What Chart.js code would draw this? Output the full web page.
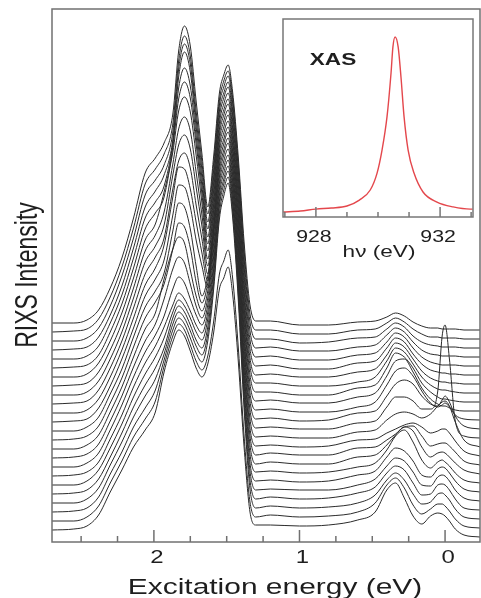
<!DOCTYPE html>
<html>
<head>
<meta charset="utf-8">
<script src="https://cdn.jsdelivr.net/npm/chart.js@4.4.1/dist/chart.umd.min.js"></script>
<style>
  body { margin: 0; background: #fff; }
  #wrap { position: relative; width: 481px; height: 598px; }
  #main { position: absolute; left: 0; top: 0; }
  #xas { position: absolute; left: 270px; top: 10px; }
</style>
</head>
<body>
<div id="wrap">
  <canvas id="main" width="481" height="598"></canvas>
  <canvas id="xas" width="211" height="260"></canvas>
</div>
<script>
// energy loss grid in eV, shared by every RIXS spectrum
var energy = [2.70, 2.55, 2.46, 2.38, 2.30, 2.22, 2.14, 2.06, 1.99, 1.93,
              1.87, 1.83, 1.79, 1.75, 1.71, 1.67, 1.63, 1.59, 1.55, 1.52, 1.49, 1.46, 1.42, 1.38, 1.34, 1.30,
              1.20, 1.00, 0.80, 0.60, 0.48, 0.40, 0.34, 0.28, 0.22, 0.16, 0.10, 0.05, 0.02, 0.00, -0.03, -0.07, -0.13, -0.24];

// RIXS intensity (arb. units) above each curve's own baseline, top of the stack first
var spectra = [
  [0,0,3,13,35,65,105,150,165,180, 209,272,297,277,222,169,116,166,230,248,258,232,165,80,18,2, 2,-2,-2,1, 2,6,10,7,1,-3,-5,-5,-6,-6,-6,-6,-7,-7],
  [0,1,3,13,35,65,104,148,163,178, 208,271,296,276,221,170,118,168,232,251,261,235,167,81,18,2, 2,-2,-2,2, 3,9,14,10,3,-2,-5,-5,-6,-6,-6,-6,-7,-7],
  [0,0,3,13,35,65,103,146,161,176, 209,272,297,277,222,171,119,170,236,254,265,239,170,82,19,2, 2,-2,-1,3, 4,12,18,14,5,-1,-4,-5,-6,-6,-6,-6,-7,-7],
  [0,1,3,13,35,64,102,143,159,175, 210,273,298,278,223,172,121,172,239,257,268,241,172,83,19,2, 3,-1,-1,3, 5,15,22,18,8,0,-4,-5,-6,-6,-6,-6,-7,-7],
  [0,0,3,13,36,64,101,141,157,173, 216,271,291,273,223,173,122,175,242,261,272,245,174,84,19,2, 3,-1,-1,4, 6,17,26,22,11,2,-3,-5,-6,-6,-6,-6,-7,-7],
  [0,1,3,13,36,64,100,139,155,171, 221,269,286,270,224,174,124,177,245,264,275,248,176,85,19,2, 3,-1,-1,5, 7,20,30,26,14,4,-2,-4,-5,-5,-6,-6,-7,-7],
  [0,0,3,14,36,64,99,137,153,185, 225,266,280,265,222,174,126,179,248,267,278,250,178,86,19,2, 3,0,0,5, 8,22,34,30,18,6,-1,-4,-5,-5,-6,-6,-7,-7],
  [0,1,3,14,36,63,98,135,151,174, 222,257,269,255,214,171,127,181,251,271,282,254,180,87,20,3, 3,0,0,4, 9,25,38,34,22,9,1,-3,-4,-4,-5,-6,-7,-7],
  [0,0,3,14,36,63,97,133,149,170, 220,250,260,246,208,169,129,184,254,274,285,257,182,88,20,3, 3,0,0,7, 10,27,42,38,27,12,3,-2,-4,-4,-5,-6,-7,-7],
  [0,1,3,14,36,63,96,130,147,166, 215,243,251,236,199,165,130,186,257,277,289,260,185,90,20,3, 4,1,1,7, 11,28,43,45,32,16,5,0,-2,-2,-4,-6,-7,-7],
  [0,0,3,14,36,63,95,128,145,168, 216,246,244,224,191,160,132,188,260,280,292,263,187,91,20,3, 4,1,1,6, 11,28,42,45,37,22,10,6,8,10,6,-2,-6,-7],
  [0,1,3,14,36,63,94,126,143,162, 207,237,235,215,182,156,134,190,263,283,295,266,189,91,21,3, 4,1,2,9, 11,26,38,42,38,26,18,16,22,26,20,6,-4,-7],
  [0,0,4,14,37,62,94,124,140,158, 200,228,224,202,165,135,155,201,266,287,299,269,191,93,21,3, 4,2,2,8, 10,24,34,34,30,22,22,40,95,106,72,10,-5,-7],
  [0,1,4,14,37,62,93,122,138,156, 191,217,213,192,158,137,157,203,269,290,302,272,193,94,21,3, 4,2,2,8, 10,20,26,28,26,22,26,34,38,39,34,18,0,-7],
  [0,0,4,14,37,62,92,120,136,170, 200,212,206,179,153,138,158,205,272,294,306,275,196,95,21,3, 4,2,3,9, 10,16,20,24,26,22,16,18,20,20,16,8,-2,-7],
  [0,1,4,14,37,62,91,117,134,159, 189,201,195,174,152,140,160,208,275,297,309,278,198,96,22,3, 5,3,3,10, 11,18,24,31,32,22,12,14,15,15,12,6,-3,-7],
  [0,0,4,14,37,62,90,115,132,151, 178,190,184,168,152,142,162,210,278,300,312,281,200,97,22,3, 5,3,3,10, 12,22,32,40,36,20,10,14,15,14,10,4,-3,-7],
  [0,1,4,14,37,61,89,113,130,149, 171,183,177,165,151,143,164,212,281,303,316,284,202,98,22,4, 5,3,4,9, 13,26,40,46,34,16,8,14,16,14,10,3,-4,-7],
  [0,0,4,15,37,61,88,111,128,147, 173,185,179,167,153,145,166,215,284,306,319,287,204,99,22,4, 5,3,4,10, 14,28,37,34,24,10,8,16,18,17,12,4,-4,-7],
  [0,1,4,15,37,61,87,109,126,146, 176,188,182,169,154,146,167,217,288,310,323,291,207,100,23,4, 5,4,4,9, 15,28,36,33,22,9,8,17,19,18,13,4,-4,-7],
  [0,0,4,15,38,61,86,107,124,149, 179,191,185,172,157,148,169,219,290,313,326,293,209,101,23,4, 6,4,5,10, 16,30,37,33,20,8,9,18,19,18,13,4,-5,-7],
  [0,1,4,15,38,60,85,104,122,152, 182,194,188,174,159,150,171,222,293,316,329,296,211,102,23,4, 6,4,5,9, 17,32,39,32,18,8,10,18,19,17,12,3,-5,-7],
  [0,0,4,15,38,60,84,102,120,155, 185,197,191,176,160,151,165,199,247,260,271,244,173,84,19,4, 6,4,5,9, 18,36,43,33,16,7,12,17,17,15,10,2,-5,-7],
  [0,1,4,15,38,60,83,100,118,158, 188,200,194,179,162,153,166,197,241,252,263,237,168,82,18,5, 5,4,5,10, 18,40,47,32,14,6,14,17,16,14,9,1,-5,-7]
];

// XAS spectrum for the inset (normalised)
var xasEnergy = [926.95, 927.5, 928.0, 928.5, 929.0, 929.4, 929.75, 929.97, 930.13, 930.29, 930.42, 930.48, 930.55,
                 930.65, 930.74, 930.84, 930.97, 931.16, 931.45, 931.9, 932.42, 932.97, 933.05];
var xasIntensity = [0.028, 0.033, 0.044, 0.05, 0.061, 0.094, 0.15, 0.244, 0.372, 0.556, 0.8, 0.944, 1.0,
                    0.944, 0.778, 0.556, 0.372, 0.244, 0.139, 0.083, 0.056, 0.044, 0.044];

// axis ticks
var lossTicks = [0, 0.25, 0.5, 0.75, 1, 1.25, 1.5, 1.75, 2, 2.25, 2.5];
var lossLabels = [0, 1, 2];
var xasTicks = [927, 928, 929, 930, 931, 932, 933];
var xasLabels = [928, 932];

// waterfall spacing between spectra
var base = 12;
var step = 9;

// text in this figure is drawn a bit wide
var SX = 1.33;
var FONT = '"Liberation Sans", Arial, sans-serif';

function wideText(ctx, txt, x, y, font, rotate) {
    ctx.save();
    ctx.translate(x, y);
    ctx.scale(SX, 1);
    if (rotate) ctx.rotate(-Math.PI / 2);
    ctx.font = font;
    ctx.fillStyle = '#1e1e1e';
    ctx.textAlign = 'center';
    ctx.textBaseline = 'alphabetic';
    ctx.fillText(txt, 0, 0);
    ctx.restore();
}

function tick(ctx, x, y0, len) {
    ctx.beginPath();
    ctx.moveTo(x, y0);
    ctx.lineTo(x, y0 - len);
    ctx.stroke();
}

var mainDecor = {
    id: 'mainDecor',
    beforeDraw: function(chart) {
        var ctx = chart.ctx;
        ctx.save();
        ctx.fillStyle = '#fff';
        ctx.fillRect(0, 0, chart.width, chart.height);
        ctx.restore();
    },
    afterDraw: function(chart) {
        var ctx = chart.ctx, a = chart.chartArea, x = chart.scales.x;
        ctx.save();
        ctx.strokeStyle = '#707070';
        ctx.lineWidth = 1.5;
        ctx.strokeRect(a.left, a.top, a.right - a.left, a.bottom - a.top);
        lossTicks.forEach(function(v) {
            tick(ctx, x.getPixelForValue(v), a.bottom, Number.isInteger(v) ? 12 : 6);
        });
        ctx.restore();
        lossLabels.forEach(function(v) {
            wideText(ctx, String(v), x.getPixelForValue(v) + 3, 563, '18px ' + FONT);
        });
        wideText(ctx, 'Excitation energy (eV)', 275, 594, '22.5px ' + FONT);
        wideText(ctx, 'RIXS Intensity', 37, 275, '23px ' + FONT, true);
    }
};

var n = spectra.length;
var datasets = spectra.map(function(row, k) {
    var off = base + step * (n - 1 - k);
    return {
        data: row.map(function(v, j) { return {x: energy[j], y: v + off}; }),
        borderColor: '#2b2b2b',
        borderWidth: 1,
        pointRadius: 0,
        fill: false,
        cubicInterpolationMode: 'monotone'
    };
});

new Chart(document.getElementById('main'), {
    type: 'line',
    data: {datasets: datasets},
    options: {
        responsive: false,
        animation: false,
        devicePixelRatio: 1,
        layout: {padding: {left: 52, top: 9, right: 1, bottom: 56}},
        plugins: {legend: {display: false}, tooltip: {enabled: false}},
        scales: {
            x: {type: 'linear', reverse: true, min: -0.24, max: 2.70, display: false},
            y: {min: 0, max: 533, display: false}
        }
    },
    plugins: [mainDecor]
});

// inset: XAS
var xasDecor = {
    id: 'xasDecor',
    beforeDatasetsDraw: function(chart) {
        var ctx = chart.ctx, a = chart.chartArea;
        ctx.save();
        ctx.fillStyle = '#fff';
        ctx.fillRect(a.left, a.top, a.right - a.left, a.bottom - a.top);
        ctx.restore();
    },
    afterDraw: function(chart) {
        var ctx = chart.ctx, a = chart.chartArea, x = chart.scales.x;
        ctx.save();
        ctx.strokeStyle = '#777';
        ctx.lineWidth = 1.5;
        ctx.strokeRect(a.left, a.top, a.right - a.left, a.bottom - a.top);
        xasTicks.forEach(function(v) {
            tick(ctx, x.getPixelForValue(v), a.bottom, xasLabels.indexOf(v) >= 0 ? 10 : 5);
        });
        ctx.restore();
        xasLabels.forEach(function(v) {
            wideText(ctx, String(v), x.getPixelForValue(v) - 2, 232, '16px ' + FONT);
        });
        wideText(ctx, 'h\u03bd (eV)', 109, 247, '17px ' + FONT);
        wideText(ctx, 'XAS', 63, 55, 'bold 17px ' + FONT);
    }
};

new Chart(document.getElementById('xas'), {
    type: 'line',
    data: {
        datasets: [{
            data: xasIntensity.map(function(v, i) { return {x: xasEnergy[i], y: v}; }),
            borderColor: '#e4474c',
            borderWidth: 1.4,
            pointRadius: 0,
            fill: false,
            cubicInterpolationMode: 'monotone'
        }]
    },
    options: {
        responsive: false,
        animation: false,
        devicePixelRatio: 1,
        layout: {padding: {left: 13, top: 9, right: 8, bottom: 53}},
        plugins: {legend: {display: false}, tooltip: {enabled: false}},
        scales: {
            x: {type: 'linear', min: 926.94, max: 933.06, display: false},
            y: {min: 0, max: 1.1, display: false}
        }
    },
    plugins: [xasDecor]
});
</script>
</body>
</html>
